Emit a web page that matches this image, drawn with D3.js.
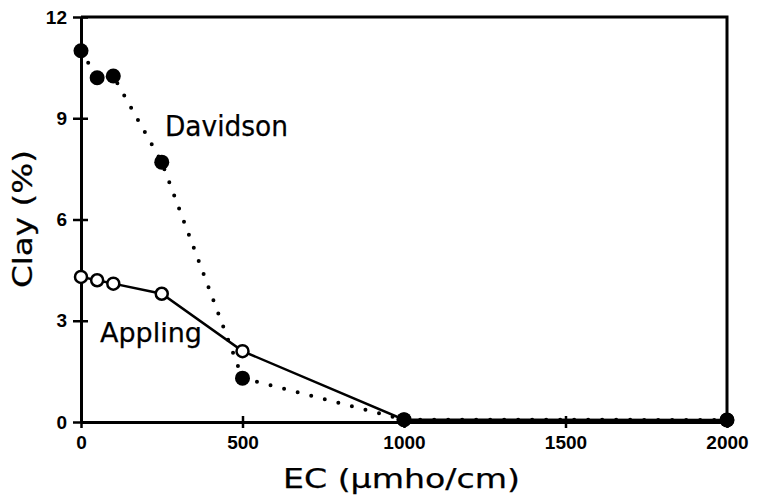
<!DOCTYPE html>
<html>
<head>
<meta charset="utf-8">
<script src="https://cdn.jsdelivr.net/npm/d3@7"></script>
<style>
  body { margin: 0; background: #fff; }
  svg { display: block; }
  .tick text { font-family: "Liberation Sans", Arial, sans-serif; font-weight: bold; font-size: 19px; fill: #000; }
  .lbl { font-family: "DejaVu Sans", sans-serif; fill: #000; stroke: #000; stroke-width: 0.25; }
</style>
</head>
<body>
<svg width="760" height="503"></svg>
<script>
// EC values (umho/cm) and clay percentages
var ec = [0, 50, 100, 250, 500, 1000, 2000];
var davidson = [11.0, 10.2, 10.25, 7.7, 1.3, 0.07, 0.06];
var appling = [4.3, 4.2, 4.1, 3.8, 2.1, 0.07, 0.06];
var xTicks = [0, 500, 1000, 1500, 2000];
var yTicks = [0, 3, 6, 9, 12];

var svg = d3.select("svg");
// note: "top" is taken by window.top, so use other names
var plotL = 81, plotR = 727, plotT = 17, plotB = 422;

var x = d3.scaleLinear().domain([0, 2000]).range([plotL, plotR]);
var y = d3.scaleLinear().domain([0, 12]).range([plotB, plotT]);

// frame (top + right edges)
svg.append("path")
    .attr("d", "M" + plotL + "," + plotT + "H" + plotR + "V" + plotB)
    .attr("fill", "none")
    .attr("stroke", "#000")
    .attr("stroke-width", 3);

// axes, ticks crossing the line
var xAxis = svg.append("g")
    .attr("transform", "translate(0," + plotB + ")")
    .call(d3.axisBottom(x).tickValues(xTicks).tickFormat(d3.format("d"))
        .tickSizeInner(6).tickSizeOuter(0).tickPadding(8));
xAxis.selectAll(".tick line").attr("y1", -6);

var yAxis = svg.append("g")
    .attr("transform", "translate(" + plotL + ",0)")
    .call(d3.axisLeft(y).tickValues(yTicks).tickFormat(d3.format("d"))
        .tickSizeInner(8).tickSizeOuter(0).tickPadding(6));
yAxis.selectAll(".tick line").attr("x1", 7);

svg.selectAll(".domain").attr("stroke", "#000").attr("stroke-width", 3);
svg.selectAll(".tick line").attr("stroke", "#000").attr("stroke-width", 2.5);

var line = d3.line()
    .x(function(d) { return x(d[0]); })
    .y(function(d) { return y(d[1]); });

var dav = ec.map(function(e, i) { return [e, davidson[i]]; });
var app = ec.map(function(e, i) { return [e, appling[i]]; });

// Davidson - dotted
svg.append("path")
    .datum(dav)
    .attr("d", line)
    .attr("fill", "none")
    .attr("stroke", "#000")
    .attr("stroke-width", 4)
    .attr("stroke-linecap", "round")
    .attr("stroke-dasharray", "0,14");

// Appling - solid
svg.append("path")
    .datum(app)
    .attr("d", line)
    .attr("fill", "none")
    .attr("stroke", "#000")
    .attr("stroke-width", 2.5);

svg.selectAll(".app")
    .data(app)
    .enter().append("circle")
    .attr("class", "app")
    .attr("cx", function(d) { return x(d[0]); })
    .attr("cy", function(d) { return y(d[1]); })
    .attr("r", 6)
    .attr("fill", "#fff")
    .attr("stroke", "#000")
    .attr("stroke-width", 2.5);

svg.selectAll(".dav")
    .data(dav)
    .enter().append("circle")
    .attr("class", "dav")
    .attr("cx", function(d) { return x(d[0]); })
    .attr("cy", function(d) { return y(d[1]); })
    .attr("r", 7.5)
    .attr("fill", "#000");

// series labels
svg.append("text").attr("class", "lbl")
    .attr("x", 165).attr("y", 136)
    .attr("font-size", 28)
    .attr("textLength", 123).attr("lengthAdjust", "spacingAndGlyphs")
    .text("Davidson");

svg.append("text").attr("class", "lbl")
    .attr("x", 100).attr("y", 342)
    .attr("font-size", 27)
    .attr("textLength", 102).attr("lengthAdjust", "spacingAndGlyphs")
    .text("Appling");

// axis titles
svg.append("text").attr("class", "lbl")
    .attr("x", 283).attr("y", 488)
    .attr("font-size", 27)
    .attr("textLength", 237).attr("lengthAdjust", "spacingAndGlyphs")
    .text("EC (\u03bcmho/cm)");

svg.append("text").attr("class", "lbl")
    .attr("transform", "translate(32,219) rotate(-90)")
    .attr("text-anchor", "middle")
    .attr("font-size", 26)
    .attr("textLength", 138).attr("lengthAdjust", "spacingAndGlyphs")
    .text("Clay (%)");
</script>
</body>
</html>
